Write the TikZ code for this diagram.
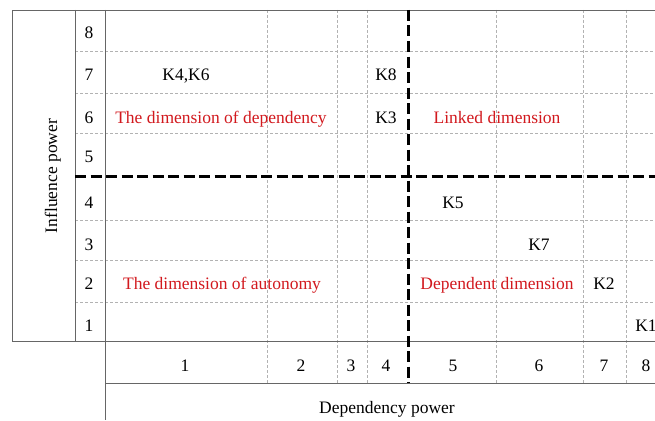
\documentclass[tikz,border=0pt]{standalone}
\usepackage{fontspec}
\setmainfont{Liberation Serif}
\usepackage{tikz}
\definecolor{dimred}{RGB}{210,25,30}
\tikzset{
  frameline/.style={line width=0.9pt,draw=black!60},
  gridline/.style={line width=0.6pt,draw=black!30,dash pattern=on 3pt off 2pt},
  splitline/.style={line width=3pt,draw=black,dash pattern=on 11pt off 4.5pt},
  lbl/.style={anchor=base,inner sep=0pt,font=\fontsize{17.5}{20}\selectfont},
  dimlbl/.style={lbl,text=dimred},
}

\begin{document}
\begin{tikzpicture}[x=1pt,y=-1pt]
      \clip (0,0) rectangle (655,420);
      \fill[white] (0,0) rectangle (655,420);

      % light grid
      \foreach \y in {51,93,133,220,260,302}
        \draw[gridline] (75,\y) -- (670,\y);
      \foreach \x in {267,337,367,496,583,626}
        \draw[gridline] (\x,10) -- (\x,383);

      \draw[frameline] (670,10) -- (12,10) -- (12,341) -- (670,341);
      \draw[frameline] (75,10) -- (75,341);
      \draw[frameline] (105,10) -- (105,420);
      \draw[frameline] (105,383) -- (670,383);

      % quadrants
      \draw[splitline] (75,176) -- (670,176);
      \draw[splitline] (408,10) -- (408,383);

      \foreach \n/\y in {8/39,7/81,6/123,5/162,4/208,3/250,2/289,1/331}
        \node[lbl] (row\n) at (89,\y) {\n};
      \foreach \n/\x in {1/185,2/301,3/351,4/386,5/453,6/539,7/604,8/646}
        \node[lbl] (col\n) at (\x,371) {\n};

      \node[lbl,rotate=90] (infl) at (57,176) {Influence power};
      \node[lbl] (depd) at (387,413) {Dependency power};

      \node[dimlbl] (dimdep) at (221,123) {The dimension of dependency};
      \node[dimlbl] (dimlink) at (497,123) {Linked dimension};
      \node[dimlbl] (dimauto) at (222,289) {The dimension of autonomy};
      \node[dimlbl] (dimdept) at (497,289) {Dependent dimension};

      \node[lbl] (k46) at (186,81) {K4,K6};
      \node[lbl] (k8) at (386,81) {K8};
      \node[lbl] (k3) at (386,123) {K3};
      \node[lbl] (k5) at (453,208) {K5};
      \node[lbl] (k7) at (539,250) {K7};
      \node[lbl] (k2) at (604,289) {K2};
      \node[lbl] (k1) at (646,331) {K1};
    \end{tikzpicture}
\end{document}
